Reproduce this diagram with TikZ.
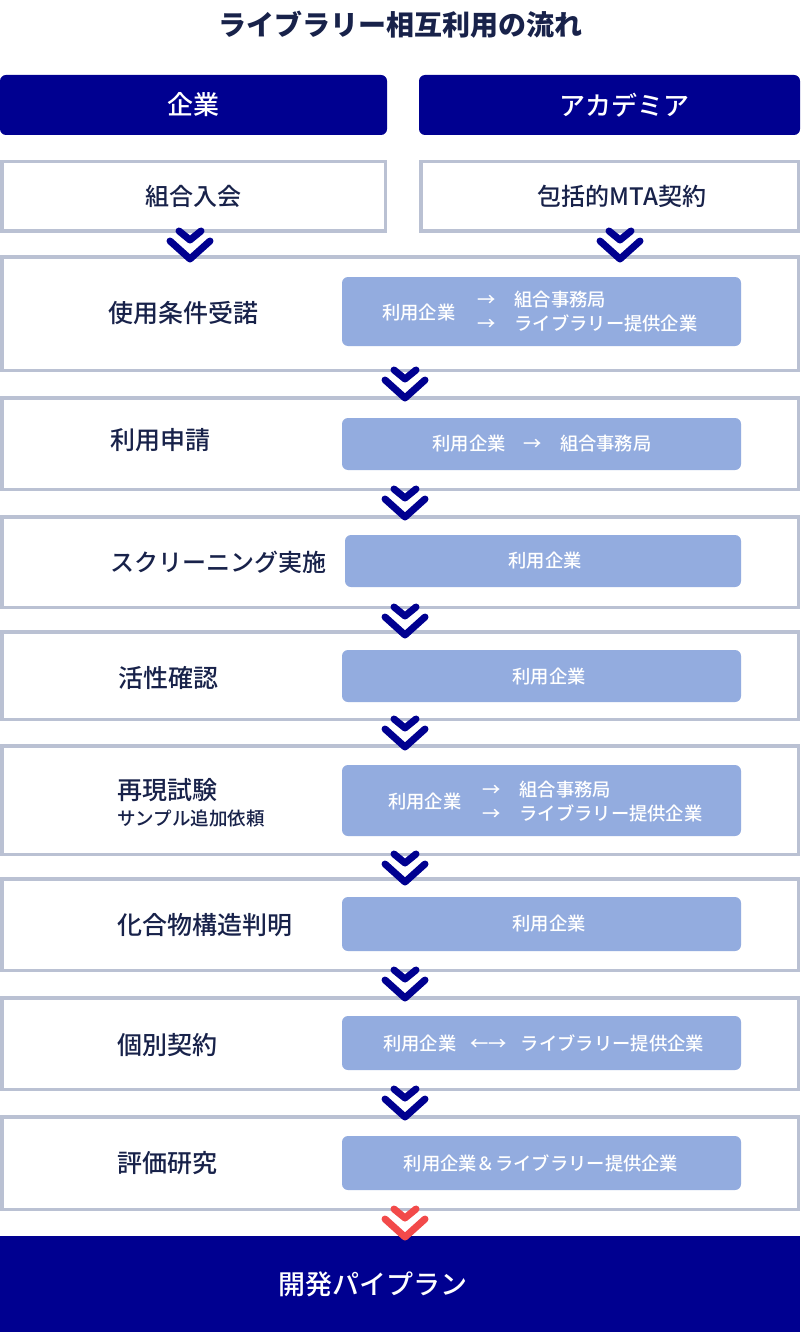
\documentclass[tikz,border=0pt]{standalone}
\usepackage{fontspec}
\setmainfont{Noto Sans CJK JP}[BoldFont={Noto Sans CJK JP Bold}]
\newfontfamily\medfont{Noto Sans CJK JP Medium}
\newfontfamily\heavyfont{Noto Sans CJK JP Black}
\usetikzlibrary{positioning,calc}
\definecolor{navy}{HTML}{000090}
\definecolor{ink}{HTML}{18224A}
\definecolor{frame}{HTML}{BAC1D3}
\definecolor{pale}{HTML}{93ACDF}
\definecolor{alert}{HTML}{F24A4A}

\begin{document}
\begin{tikzpicture}[x=1pt,y=-1pt,
  hd/.style={fill=navy,rounded corners=6pt,text=white,minimum height=60pt,font=\medfont\fontsize{26}{30}\selectfont},
  jn/.style={draw=frame,line width=3.5pt,fill=white,minimum height=69.5pt,text=ink,font=\medfont\fontsize{24}{28}\selectfont},
  stg/.style={draw=frame,line width=3.5pt,fill=white,minimum width=796.5pt},
  lbl/.style={anchor=west,text=ink,inner sep=0pt,font=\medfont\fontsize{25}{28}\selectfont},
  sub/.style={anchor=west,text=ink,inner sep=0pt,font=\medfont\fontsize{18.5}{20}\selectfont},
  bx/.style={fill=pale,rounded corners=6pt,minimum width=399pt},
  tx/.style={text=white,inner sep=0pt,font=\medfont\fontsize{18.3}{20}\selectfont},
  pics/chev/.style={code={\draw[line width=7pt,line cap=round,line join=round] (-11,4)--(0,13)--(11,4) (-20,14)--(0,32)--(20,14);}}
]
\useasboundingbox (0,0) rectangle (800,1332);
\node[text=ink,font=\heavyfont\fontsize{28}{32}\selectfont] (title) at (400,25) {ライブラリー相互利用の流れ};
\node[hd,minimum width=387pt] (corp) at (193.5,105) {企業};
\node[hd,minimum width=381pt] (acad) at (609.5,105) {\hspace{30pt}アカデミア};
\node[jn,minimum width=383.5pt] (join) at (193.5,196.5) {組合入会};
\node[jn,minimum width=377.5pt] (mta) at (609.5,196.5) {\hspace{25pt}包括的MTA契約};
% stages
\node[stg,minimum height=113.5pt] (s1) at (400,313.5) {};
\node[stg,minimum height=91.5pt] (s2) at (400,443.5) {};
\node[stg,minimum height=90.5pt] (s3) at (400,562) {};
\node[stg,minimum height=87.5pt] (s4) at (400,675.5) {};
\node[stg,minimum height=108.5pt] (s5) at (400,800) {};
\node[stg,minimum height=91.5pt] (s6) at (400,924.5) {};
\node[stg,minimum height=91.5pt] (s7) at (400,1043.5) {};
\node[stg,minimum height=92.5pt] (s8) at (400,1163) {};
\node[fill=navy,minimum width=800pt,minimum height=96pt,text=white,font=\medfont\fontsize{27}{30}\selectfont] (dev) at (400,1284) {\hspace{-54pt}開発パイプラン};
% labels
\node[lbl] (l1) at (108,313) {使用条件受諾};
\node[lbl] (l2) at (110,440) {利用申請};
\node[lbl,font=\medfont\fontsize{24}{28}\selectfont] (l3) at (110,562) {スクリーニング実施};
\node[lbl] (l4) at (118,678) {活性確認};
\node[lbl] (l5) at (117,790) {再現試験};
\node[sub] (l5s) at (117,818) {サンプル追加依頼};
\node[lbl] (l6) at (117,925) {化合物構造判明};
\node[lbl] (l7) at (117,1045) {個別契約};
\node[lbl] (l8) at (117,1163) {評価研究};
% who does it
\node[bx,minimum height=69pt] (b1) at (541.5,311.5) {};
\node[tx,anchor=west] (b1a) at (382,313) {利用企業};
\node[tx,anchor=west] (b1b) at (477,300) {→\hspace{19pt}組合事務局};
\node[tx,anchor=west] (b1c) at (477,323) {→\hspace{19pt}ライブラリー提供企業};
\node[bx,minimum height=52pt] (b2) at (541.5,444) {};
\node[tx] (b2a) at (542,444) {利用企業\hspace{18pt}→\hspace{18pt}組合事務局};
\node[bx,minimum height=52pt,minimum width=396pt] (b3) at (543,561) {};
\node[tx] (b3a) at (545,561) {利用企業};
\node[bx,minimum height=52pt] (b4) at (541.5,676) {};
\node[tx] (b4a) at (549,677) {利用企業};
\node[bx,minimum height=71pt] (b5) at (541.5,800.5) {};
\node[tx,anchor=west] (b5a) at (388,802) {利用企業};
\node[tx,anchor=west] (b5b) at (482,790) {→\hspace{19pt}組合事務局};
\node[tx,anchor=west] (b5c) at (482,813) {→\hspace{19pt}ライブラリー提供企業};
\node[bx,minimum height=54pt] (b6) at (541.5,924) {};
\node[tx] (b6a) at (549,924) {利用企業};
\node[bx,minimum height=54pt] (b7) at (541.5,1043) {};
\node[tx] (b7a) at (543.5,1043) {利用企業\hspace{14pt}←→\hspace{14pt}ライブラリー提供企業};
\node[bx,minimum height=54pt] (b8) at (541.5,1163) {};
\node[tx] (b8a) at (541,1163) {利用企業＆ライブラリー提供企業};
% chevrons
\pic[navy] at ([xshift=-3.5pt,yshift=6pt]join.south) {chev};
\pic[navy] at ([xshift=10.5pt,yshift=6pt]mta.south) {chev};
\foreach \s in {s1,s2,s3,s4,s5,s6,s7}
  \pic[navy] at ([xshift=5pt,yshift=6pt]\s.south) {chev};
\pic[alert] at ([xshift=5pt,yshift=6pt]s8.south) {chev};
\end{tikzpicture}
\end{document}
